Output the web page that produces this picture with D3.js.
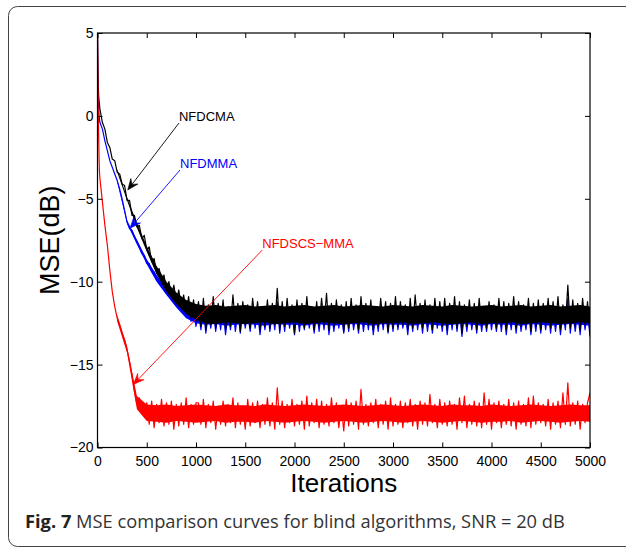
<!DOCTYPE html>
<html>
<head>
<meta charset="utf-8">
<script src="https://cdn.jsdelivr.net/npm/d3@7"></script>
<style>
  html, body { margin: 0; padding: 0; background: #fff; }
  svg { display: block; }
</style>
</head>
<body>
<svg id="chart" width="626" height="549"></svg>
<script>
// ---------------- DATA ----------------
const earlyIterations = [0, 4, 8, 12, 16, 20];
const iterations = earlyIterations.concat(d3.range(25, 5001, 25));
const bandIterations = d3.range(200, 5001, 100);

const xTicks = [0, 500, 1000, 1500, 2000, 2500, 3000, 3500, 4000, 4500, 5000];
const yTicks = [-20, -15, -10, -5, 0, 5];

const seriesNames = ["NFDMMA", "NFDCMA", "NFDSCS\u2212MMA"];
const seriesColors = ["#0000ff", "#000000", "#ff0000"];

// NFDCMA (black) sampled trace
const nfdcma = [
  5.0, 3.0, 1.8, 1.2, 0.9, 0.7,
  0.4, -0.4, -0.8, -1.6, -1.9, -2.6, -2.7, -3.4, -3.5, -4.1,
  -4.2, -5.1, -5.1, -6.0, -6.0, -6.7, -6.6, -7.4, -7.2, -8.1,
  -7.9, -8.8, -8.6, -9.5, -9.2, -9.9, -9.6, -10.5, -10.0, -10.9,
  -10.2, -11.2, -10.5, -11.5, -10.8, -11.9, -10.9, -12.2, -11.1, -12.4,
  -11.2, -12.7, -11.0, -12.9, -11.4, -12.6, -10.9, -12.8, -11.3, -12.5,
  -11.1, -12.9, -11.5, -12.7, -10.8, -12.6, -11.3, -13.0, -11.2, -12.6,
  -11.4, -12.8, -11.0, -12.5, -11.2, -12.9, -11.5, -12.7, -11.1, -12.8,
  -11.3, -12.6, -10.4, -12.9, -11.2, -12.7, -11.0, -12.6, -11.4, -13.1,
  -11.1, -12.7, -11.3, -12.8, -10.9, -12.6, -11.5, -12.9, -11.2, -12.7,
  -11.0, -12.6, -10.7, -12.9, -11.3, -12.7, -11.1, -12.5, -11.4, -13.0,
  -11.2, -12.8, -11.0, -12.6, -11.4, -12.9, -10.9, -12.7, -11.3, -12.6,
  -11.1, -12.9, -11.5, -12.7, -11.0, -12.6, -11.2, -13.0, -11.3, -12.8,
  -10.9, -12.7, -11.2, -12.6, -11.4, -12.9, -11.0, -12.8, -10.8, -12.6,
  -11.3, -12.8, -11.1, -12.7, -11.4, -12.9, -11.0, -12.6, -11.2, -12.7,
  -11.0, -12.9, -11.3, -12.6, -10.9, -12.8, -11.2, -13.1, -11.4, -12.7,
  -11.1, -12.6, -11.3, -12.9, -11.0, -12.7, -11.5, -12.8, -11.2, -12.6,
  -11.4, -12.8, -11.0, -12.7, -11.2, -12.9, -11.3, -12.6, -10.9, -12.8,
  -11.2, -12.7, -11.4, -12.6, -11.0, -13.0, -11.3, -12.7, -11.1, -12.9,
  -11.3, -12.6, -11.0, -12.8, -11.2, -12.7, -10.9, -12.9, -11.4, -12.6,
  -10.2, -12.8, -11.1, -12.7, -11.3, -12.9, -11.0, -12.6, -11.2, -13.2
];
// NFDCMA dense-noise core band (upper / lower edge per 100 iterations)
const nfdcmaHi = [
  -3.2, -4.9, -6.45, -7.85, -9.05, -10.0, -10.65, -11.1, -11.35,
  -11.45, -11.4, -11.5, -11.45, -11.4, -11.5, -11.45, -11.4, -11.5, -11.45,
  -11.4, -11.5, -11.45, -11.4, -11.5, -11.45, -11.4, -11.45, -11.5, -11.4,
  -11.45, -11.5, -11.4, -11.45, -11.5, -11.4, -11.45, -11.5, -11.45, -11.4,
  -11.5, -11.45, -11.4, -11.5, -11.45, -11.4, -11.5, -11.45, -11.4, -11.5
];
const nfdcmaLo = [
  -3.4, -5.1, -6.75, -8.2, -9.55, -10.6, -11.35, -11.95, -12.3,
  -12.5, -12.55, -12.45, -12.5, -12.55, -12.5, -12.45, -12.55, -12.5, -12.45,
  -12.55, -12.5, -12.45, -12.5, -12.55, -12.5, -12.45, -12.55, -12.5, -12.5,
  -12.45, -12.55, -12.5, -12.45, -12.5, -12.55, -12.5, -12.45, -12.55, -12.5,
  -12.5, -12.45, -12.55, -12.5, -12.45, -12.5, -12.55, -12.5, -12.45, -12.5
];

// NFDMMA (blue) sampled trace
const nfdmma = [
  5.0, 2.2, 1.0, 0.4, 0.0, -0.2,
  -0.4, -0.8, -1.5, -2.1, -2.7, -3.1, -3.5, -3.9, -4.4, -5.0,
  -5.7, -6.4, -6.8, -6.9, -7.3, -7.6, -7.9, -8.3, -8.4, -8.9,
  -8.9, -9.4, -9.4, -9.9, -9.8, -10.3, -10.2, -10.7, -10.6, -11.0,
  -10.9, -11.4, -11.1, -11.7, -11.4, -12.0, -11.6, -12.4, -11.7, -12.7,
  -11.8, -12.9, -11.6, -13.1, -11.9, -12.8, -11.7, -13.0, -11.8, -12.9,
  -11.6, -13.2, -11.9, -12.9, -11.7, -13.0, -11.8, -13.1, -11.6, -12.8,
  -11.9, -13.0, -11.7, -12.8, -11.8, -13.2, -11.9, -12.9, -11.6, -13.0,
  -11.8, -12.9, -11.2, -13.1, -11.7, -13.0, -11.6, -12.8, -11.9, -13.2,
  -11.7, -13.0, -11.8, -12.9, -11.6, -12.8, -11.9, -13.1, -11.7, -13.0,
  -11.6, -12.9, -11.5, -13.2, -11.8, -13.0, -11.7, -12.8, -11.9, -13.1,
  -11.7, -13.0, -11.6, -12.9, -11.9, -13.1, -11.6, -13.0, -11.8, -12.9,
  -11.7, -13.2, -11.9, -13.0, -11.6, -12.9, -11.8, -13.1, -11.7, -13.0,
  -11.6, -12.9, -11.8, -12.8, -11.9, -13.2, -11.6, -13.0, -11.5, -12.9,
  -11.8, -13.1, -11.7, -13.0, -11.9, -13.1, -11.6, -12.8, -11.7, -13.0,
  -11.6, -13.2, -11.8, -12.9, -11.6, -13.0, -11.7, -13.3, -11.9, -13.0,
  -11.7, -12.9, -11.8, -13.1, -11.6, -13.0, -11.9, -13.0, -11.7, -12.9,
  -11.9, -13.0, -11.6, -13.0, -11.7, -13.2, -11.8, -12.9, -11.6, -13.1,
  -11.7, -13.0, -11.9, -12.9, -11.6, -13.2, -11.8, -13.0, -11.7, -13.1,
  -11.8, -12.9, -11.6, -13.1, -11.7, -13.0, -11.6, -13.2, -11.9, -12.9,
  -11.0, -13.1, -11.7, -13.0, -11.8, -13.2, -11.6, -12.9, -11.7, -13.3
];
const nfdmmaHi = [
  -3.8, -6.3, -7.45, -8.65, -9.6, -10.4, -11.05, -11.55, -11.8,
  -11.9, -11.85, -11.95, -11.9, -11.85, -11.95, -11.9, -11.85, -11.9, -11.95,
  -11.85, -11.9, -11.95, -11.85, -11.9, -11.9, -11.95, -11.85, -11.9, -11.95,
  -11.9, -11.85, -11.9, -11.95, -11.85, -11.9, -11.95, -11.9, -11.85, -11.9,
  -11.95, -11.9, -11.85, -11.9, -11.95, -11.85, -11.9, -11.95, -11.9, -11.85
];
const nfdmmaLo = [
  -4.0, -6.5, -7.75, -8.95, -10.0, -10.8, -11.55, -12.2, -12.5,
  -12.6, -12.55, -12.65, -12.6, -12.55, -12.6, -12.65, -12.55, -12.6, -12.6,
  -12.65, -12.55, -12.6, -12.65, -12.6, -12.55, -12.6, -12.65, -12.55, -12.6,
  -12.6, -12.65, -12.55, -12.6, -12.65, -12.6, -12.55, -12.6, -12.65, -12.55,
  -12.6, -12.6, -12.65, -12.55, -12.6, -12.65, -12.6, -12.55, -12.6, -12.65
];

// NFDSCS-MMA (red) sampled trace
const nfdscsmma = [
  5.0, 2.0, 0.2, -1.3, -2.6, -3.4,
  -3.8, -5.2, -6.6, -7.8, -9.3, -10.6, -11.5, -12.2, -12.6, -13.1,
  -13.5, -14.1, -14.8, -15.6, -16.6, -17.4, -17.0, -17.8, -18.1, -17.3,
  -18.6, -17.2, -18.8, -17.4, -18.5, -17.1, -18.7, -17.3, -18.6, -17.2,
  -18.9, -17.4, -18.7, -17.3, -18.6, -17.0, -18.8, -17.4, -18.6, -17.3,
  -17.3, -18.6, -17.1, -18.8, -17.4, -18.5, -17.2, -18.9, -17.5, -18.6,
  -17.2, -18.7, -17.4, -18.5, -17.0, -18.8, -17.3, -18.6, -17.5, -18.9,
  -17.1, -18.7, -17.3, -18.5, -17.2, -18.8, -17.4, -18.6, -17.0, -18.7,
  -17.3, -18.9, -16.4, -18.6, -17.2, -18.8, -17.4, -18.5, -17.1, -18.7,
  -17.4, -18.6, -17.2, -18.9, -16.9, -18.7, -17.3, -18.5, -17.1, -18.8,
  -17.2, -18.6, -17.4, -18.7, -17.0, -18.5, -17.3, -18.8, -17.5, -19.0,
  -17.1, -18.7, -17.3, -18.6, -17.2, -18.9, -16.5, -18.6, -17.4, -18.7,
  -17.3, -18.5, -17.1, -18.8, -17.4, -18.6, -17.2, -18.9, -17.0, -18.7,
  -17.4, -18.6, -17.2, -18.8, -17.3, -18.5, -17.1, -18.7, -17.4, -18.9,
  -17.2, -18.6, -17.3, -18.7, -16.8, -18.5, -17.4, -18.8, -17.1, -18.6,
  -17.3, -18.7, -17.2, -18.6, -17.4, -18.9, -17.0, -18.5, -16.9, -18.8,
  -17.4, -18.6, -17.2, -18.7, -17.3, -18.8, -16.7, -18.6, -17.1, -18.9,
  -17.3, -18.5, -17.2, -18.8, -17.4, -18.6, -17.1, -18.7, -17.3, -18.9,
  -17.2, -18.6, -17.4, -18.7, -17.0, -18.8, -16.9, -18.6, -17.3, -18.5,
  -17.4, -18.7, -17.1, -18.9, -17.3, -18.6, -17.2, -18.8, -16.7, -18.6,
  -16.1, -18.7, -17.3, -18.6, -17.2, -18.9, -17.4, -18.5, -17.3, -16.7
];
const nfdscsmmaHi = [
  -12.0, -13.9, -16.9, -17.4,
  -17.45, -17.4, -17.5, -17.45, -17.4,
  -17.45, -17.5, -17.4, -17.45, -17.45, -17.5, -17.4, -17.45, -17.5, -17.45,
  -17.4, -17.45, -17.5, -17.45, -17.4, -17.45, -17.5, -17.45, -17.4, -17.45,
  -17.5, -17.45, -17.4, -17.45, -17.5, -17.4, -17.45, -17.45, -17.5, -17.4,
  -17.45, -17.5, -17.45, -17.4, -17.45, -17.5, -17.45, -17.4, -17.45, -17.45
];
const nfdscsmmaLo = [
  -12.4, -14.3, -17.7, -18.4,
  -18.45, -18.5, -18.4, -18.45, -18.5,
  -18.45, -18.4, -18.5, -18.45, -18.45, -18.5, -18.4, -18.45, -18.5, -18.45,
  -18.4, -18.45, -18.5, -18.45, -18.4, -18.45, -18.5, -18.45, -18.4, -18.45,
  -18.5, -18.45, -18.4, -18.45, -18.5, -18.45, -18.4, -18.45, -18.5, -18.45,
  -18.45, -18.4, -18.5, -18.45, -18.4, -18.45, -18.5, -18.45, -18.4, -18.45
];

// annotation anchors in data units
const annotationLabels = ["NFDCMA", "NFDMMA", "NFDSCS\u2212MMA"];
const annotationText = [[827, -0.31], [838, -3.14], [1673, -7.97]];
const annotationTip = [[307, -4.47], [330, -6.78], [363, -16.2]];
const annotationColors = ["#000000", "#0000ff", "#ff0000"];

// ---------------- CHART ----------------
const svg = d3.select("#chart");
const plot = { left: 97.5, right: 590, top: 33, bottom: 447.5 };

const x = d3.scaleLinear().domain([0, 5000]).range([plot.left, plot.right]);
const y = d3.scaleLinear().domain([-20, 5]).range([plot.bottom, plot.top]);

// outer frame (open on right)
svg.append("rect")
  .attr("x", 8.5).attr("y", 6.5)
  .attr("width", 660).attr("height", 540)
  .attr("rx", 9).attr("ry", 9)
  .attr("fill", "none").attr("stroke", "#444").attr("stroke-width", 1);

const line = d3.line()
  .x((d, i) => x(iterations[i]))
  .y(d => y(d));

svg.append("clipPath").attr("id", "clip")
  .append("rect").attr("x", plot.left).attr("y", plot.top)
  .attr("width", plot.right - plot.left).attr("height", plot.bottom - plot.top);

const g = svg.append("g").attr("clip-path", "url(#clip)");
const traces = [nfdmma, nfdcma, nfdscsmma];
const bandsHi = [nfdmmaHi, nfdcmaHi, nfdscsmmaHi];
const bandsLo = [nfdmmaLo, nfdcmaLo, nfdscsmmaLo];

traces.forEach((s, k) => {
  const hi = bandsHi[k], lo = bandsLo[k];
  const area = d3.area()
    .x((d, i) => x(bandIterations[i]))
    .y0((d, i) => y(lo[i]))
    .y1((d, i) => y(hi[i]));
  g.append("path")
    .datum(hi)
    .attr("d", area)
    .attr("fill", seriesColors[k])
    .attr("stroke", "none");
  g.append("path")
    .datum(s)
    .attr("d", line)
    .attr("fill", "none")
    .attr("stroke", seriesColors[k])
    .attr("stroke-width", 1.2)
    .attr("stroke-linejoin", "round");
});

// axes
const fontAxis = "'Liberation Sans', Arial, Helvetica, sans-serif";
const fmt = d3.format("d");

const axB = svg.append("g").attr("transform", `translate(0,${plot.bottom})`)
  .call(d3.axisBottom(x).tickValues(xTicks).tickFormat(fmt).tickSizeInner(-5).tickSizeOuter(0).tickPadding(9));
const axT = svg.append("g").attr("transform", `translate(0,${plot.top})`)
  .call(d3.axisTop(x).tickValues(xTicks).tickFormat("").tickSizeInner(-5).tickSizeOuter(0));
const axL = svg.append("g").attr("transform", `translate(${plot.left},0)`)
  .call(d3.axisLeft(y).tickValues(yTicks).tickFormat(fmt).tickSizeInner(-5).tickSizeOuter(0).tickPadding(4));
const axR = svg.append("g").attr("transform", `translate(${plot.right},0)`)
  .call(d3.axisRight(y).tickValues(yTicks).tickFormat("").tickSizeInner(-5).tickSizeOuter(0));

[axB, axT, axL, axR].forEach(a => {
  a.select(".domain").remove();
  a.selectAll(".tick line").attr("stroke", "#000").attr("stroke-width", 1);
  a.selectAll("text").attr("fill", "#000").attr("font-family", fontAxis).attr("font-size", 14);
});

svg.append("rect")
  .attr("x", plot.left).attr("y", plot.top)
  .attr("width", plot.right - plot.left).attr("height", plot.bottom - plot.top)
  .attr("fill", "none").attr("stroke", "#000").attr("stroke-width", 1.2);

// axis titles
svg.append("text")
  .attr("x", (plot.left + plot.right) / 2).attr("y", 492)
  .attr("text-anchor", "middle")
  .attr("font-family", fontAxis).attr("font-size", 26)
  .attr("fill", "#000")
  .text("Iterations");

svg.append("text")
  .attr("transform", `translate(59,${(plot.top + plot.bottom) / 2}) rotate(-90)`)
  .attr("text-anchor", "middle")
  .attr("font-family", fontAxis).attr("font-size", 27)
  .attr("fill", "#000")
  .text("MSE(dB)");

// annotations
annotationLabels.forEach((lab, k) => {
  const tx = x(annotationText[k][0]), ty = y(annotationText[k][1]);
  const px = x(annotationTip[k][0]), py = y(annotationTip[k][1]);
  const c = annotationColors[k];
  svg.append("text")
    .attr("x", tx).attr("y", ty)
    .attr("font-family", fontAxis).attr("font-size", 13)
    .attr("fill", c).text(lab);
  const sx = tx, sy = ty + 2;
  const ang = Math.atan2(py - sy, px - sx);
  const L = 11, Wd = 4.5, notch = 7;
  svg.append("line")
    .attr("x1", sx).attr("y1", sy)
    .attr("x2", px - Math.cos(ang) * notch).attr("y2", py - Math.sin(ang) * notch)
    .attr("stroke", c).attr("stroke-width", 0.9);
  const bx = px - Math.cos(ang) * L, by = py - Math.sin(ang) * L;
  const nx = -Math.sin(ang), ny = Math.cos(ang);
  const nbx = px - Math.cos(ang) * notch, nby = py - Math.sin(ang) * notch;
  svg.append("path")
    .attr("d", `M${px},${py} L${bx + nx * Wd},${by + ny * Wd} L${nbx},${nby} L${bx - nx * Wd},${by - ny * Wd} Z`)
    .attr("fill", c).attr("stroke", c).attr("stroke-width", 0.6);
});

// caption
const cap = svg.append("text")
  .attr("x", 25).attr("y", 528)
  .attr("font-family", "'Open Sans', 'Noto Sans', sans-serif")
  .attr("font-size", 18.3)
  .attr("fill", "#333");
cap.append("tspan").attr("font-weight", "bold").attr("fill", "#222").text("Fig. 7");
cap.append("tspan").text(" MSE comparison curves for blind algorithms, SNR = 20 dB");
</script>
</body>
</html>
